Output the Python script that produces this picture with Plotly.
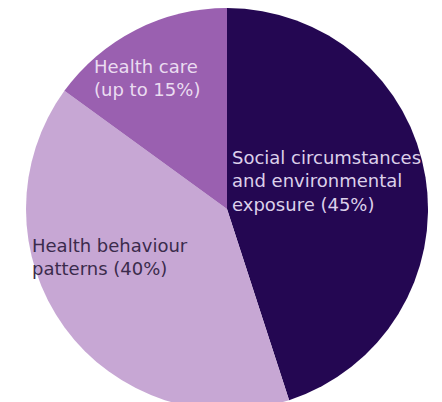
import plotly.graph_objects as go

categories = ["Social circumstances and environmental exposure", "Health behaviour patterns", "Health care"]
values = [45, 40, 15]
colors = ["#240752", "#c7a7d4", "#9a60b0"]

label_texts = [
    "Social circumstances<br>and environmental<br>exposure (45%)",
    "Health behaviour<br>patterns (40%)",
    "Health care<br>(up to 15%)",
]
text_colors = ["#dcd0ea", "#3b2b4c", "#eadcf0"]
label_left = [222, 22, 84]       # px
label_mid = [173, 249, 70]       # px

W, H = 442, 402
cx, r = 219, 201

fig = go.Figure(go.Pie(
    labels=categories,
    values=values,
    marker=dict(colors=colors, line=dict(width=0)),
    sort=False,
    direction="clockwise",
    rotation=0,
    textinfo="none",
    hoverinfo="label+percent",
    domain=dict(x=[(cx - r) / W, (cx + r) / W], y=[0, 1]),
))

annotations = []
for t, col, lx, ly in zip(label_texts, text_colors, label_left, label_mid):
    annotations.append(dict(
        text=t, x=lx / W, y=1 - ly / H, align="left",
        xref="paper", yref="paper", xanchor="left", yanchor="middle",
        showarrow=False, font=dict(family="DejaVu Sans", size=18, color=col),
    ))

fig.update_layout(
    width=W, height=H,
    margin=dict(l=0, r=0, t=0, b=0),
    paper_bgcolor="white", plot_bgcolor="white",
    showlegend=False,
    annotations=annotations,
)
fig.write_html("out.html")
